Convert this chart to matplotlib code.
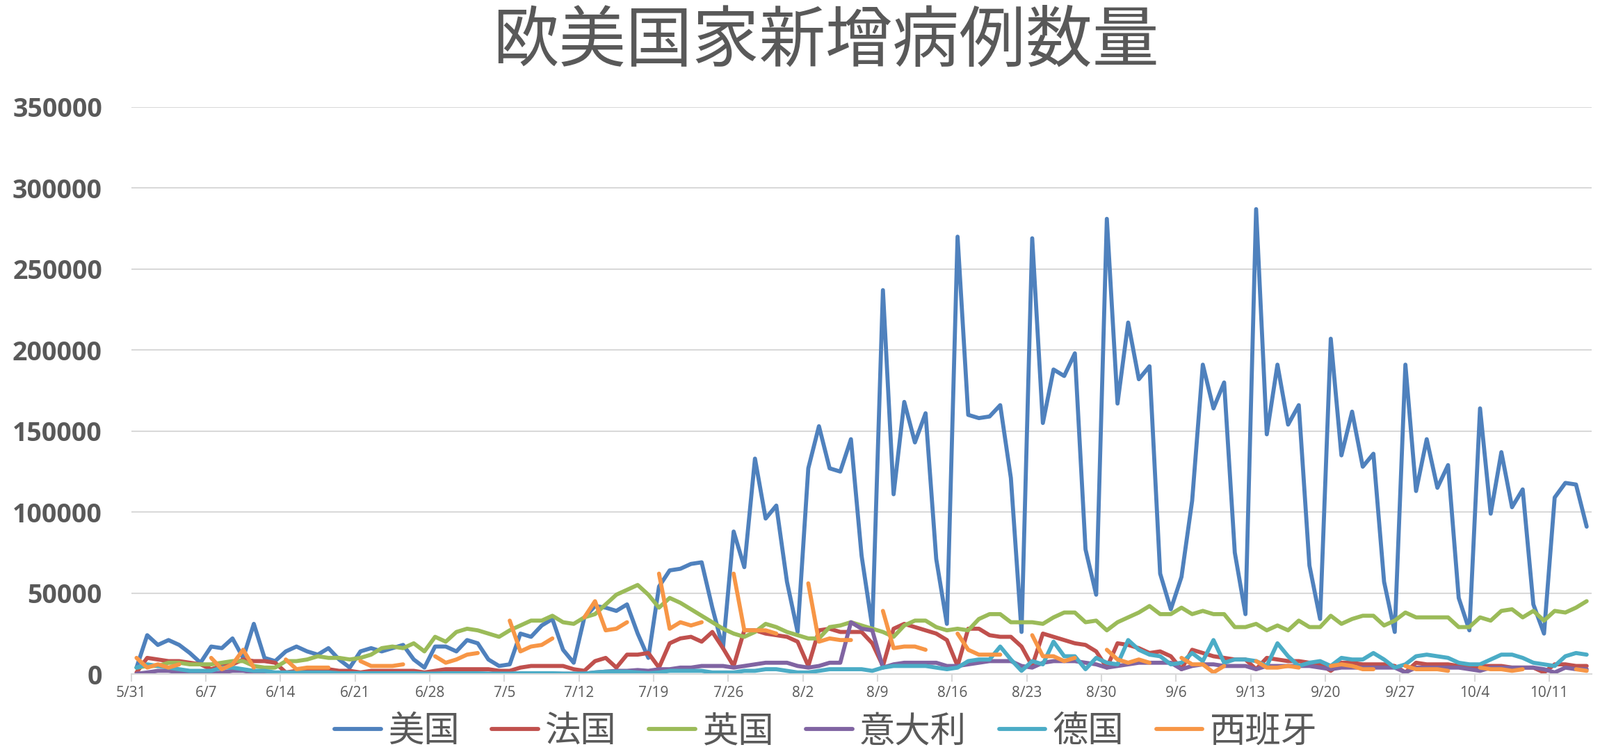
import numpy as np
import matplotlib
matplotlib.use("Agg")
import matplotlib.pyplot as plt
from matplotlib import font_manager
import datetime as dt

nan = np.nan
start = dt.date(2020, 5, 31)
n_days = 137
dates = [start + dt.timedelta(days=i) for i in range(n_days)]
tick_labels = ["5/31","6/7","6/14","6/21","6/28","7/5","7/12","7/19","7/26","8/2","8/9","8/16",
               "8/23","8/30","9/6","9/13","9/20","9/27","10/4","10/11"]

us = [4,24,18,21,18,13,7, 17,16,22,10,31,10,8, 14,17,14,12,16,9,4, 14,16,14,16,18,9,4,
      17,17,14,21,19,9,5, 6,25,23,30,34,15,7, 35,42,41,39,43,25,10, 54,64,65,68,69,41,16,
      88,66,133,96,104,57,26, 127,153,127,125,145,73,29, 237,111,168,143,161,71,31,
      270,160,158,159,166,121,26, 269,155,188,184,198,77,49, 281,167,217,182,190,62,40,
      60,107,191,164,180,75,37, 287,148,191,154,166,67,34, 207,135,162,128,136,57,26,
      191,113,145,115,129,47,27, 164,99,137,103,114,43,25, 109,118,117,91]
france = [1,10,9,8,8,7,6, 3,5,6,9,8,8,7, 1,2,2,3,3,2,2, 1,2,2,2,2,2,1, 2,3,3,3,3,3,2,
          2,4,5,5,5,5,3, 2,8,10,4,12,12,13, 4,19,22,23,20,26,16,
          5,27,27,25,24,23,20, 5,27,28,26,26,26,19, 5,28,31,29,27,25,21, 5,28,28,24,23,23,17,
          5,25,23,21,19,18,14, 4,19,18,16,13,14,11, 3,15,13,11,10,9,9, 3,10,9,8,8,7,6,
          2,7,7,6,6,6,5, 1,7,6,6,6,5,4, 5,5,5,4,4,4,1, 6,6,5,5]
uk = [4,5,5,7,7,6,6, 6,7,8,8,5,4,4, 8,8,9,11,10,10,9, 10,12,16,17,16,19,14, 23,20,26,28,27,25,23,
      27,30,33,33,36,32,31, 35,37,43,49,52,55,49, 41,47,44,40,36,32,28,
      25,23,26,31,29,26,24, 22,22,29,30,32,30,28, 26,23,30,33,33,29,27, 28,27,34,37,37,32,32,
      32,31,35,38,38,32,33, 27,32,35,38,42,37,37, 41,37,39,37,37,29,29, 31,27,30,27,33,29,29,
      36,31,34,36,36,30,33, 38,35,35,35,35,29,29, 35,33,39,40,35,39,33, 39,38,41,45]
italy = [0.2,1,2,2,1,1,0.5, 0.3,1,2,2,1,1,0.5, 0.3,0.3,0.3,0.3,0.3,0.2,0.2, 0.2,0.2,0.2,0.2,0.2,0.2,0.1,
         0.2,0.2,0.2,0.2,0.3,0.2,0.2, 0.2,0.2,0.2,0.3,0.3,0.2,0.2, 0.2,1,1.5,2,2,2.5,2, 3,3,4,4,5,5,5,
         4,5,6,7,7,7,5, 4,5,7,7,32,28,27, 4,6,7,7,7,7,5, 5,6,7,8,8,8,5, 4,7,8,8,8,7,6,
         4,5,6,7,7,7,7, 3,5,6,6,5,5,5, 3,5,5,5,5,5,4, 3,4,4,4,4,4,4, 1,4,4,4,4,4,3, 2,4,4,4,4,4,3, 1,4,3,3]
germany = [4,6,5,4,3,2,2, 2,4,4,3,2,2,1, 1,1,1,1,1,0.5,0.5, 0.5,0.5,0.5,0.5,0.5,0.5,0.3,
           0.3,0.5,0.5,0.5,0.5,0.3,0.3, 0.3,0.5,0.5,0.5,0.5,0.3,0.3, 0.3,1,1.5,1.5,1.5,1,0.5, 1,2,2,2,2,1,1,
           1,2,2,3,3,2,1, 1,2,3,3,3,3,2, 4,5,5,5,5,4,3, 4,8,9,9,17,9,2, 8,6,20,11,11,3,10,
           7,6,21,15,12,11,6, 7,13,8,21,7,9,9, 8,5,19,11,5,7,8, 5,10,9,9,13,9,4,
           6,11,12,11,10,7,6, 6,9,12,12,10,7,6, 5,11,13,12]
spain = [10,4,6,4,6,nan,nan, 10,3,6,15,4,nan,nan, 9,3,4,4,4,nan,nan, 8,5,5,5,6,nan,nan,
         11,7,9,12,13,nan,nan, 33,14,17,18,22,nan,nan, 35,45,27,28,32,nan,nan, 62,28,32,30,32,nan,nan,
         62,27,27,27,25,nan,nan, 56,20,22,21,21,nan,nan, 39,16,17,17,15,nan,nan, 25,15,12,12,12,nan,nan,
         24,11,11,8,10,nan,nan, 15,9,7,9,7,nan,nan, 10,6,6,1,5,nan,nan, 8,4,4,5,4,nan,nan,
         5,6,5,3,3,nan,nan, 5,3,3,3,2,nan,nan, 4,3,3,2,3,nan,nan, nan,nan,3,2]

series = [("美国", us, "#4F81BD"), ("法国", france, "#C0504D"), ("英国", uk, "#9BBB59"),
          ("意大利", italy, "#8064A2"), ("德国", germany, "#4BACC6"), ("西班牙", spain, "#F79646")]

cjk_prop = None
for f in font_manager.findSystemFonts():
    if "NotoSansCJK" in f.replace(" ", "") or "NotoSansSC" in f.replace(" ", ""):
        if "Regular" in f or cjk_prop is None:
            cjk_prop = f
            if "Regular" in f:
                break
if cjk_prop is not None:
    font_manager.fontManager.addfont(cjk_prop)
    cjk_name = font_manager.FontProperties(fname=cjk_prop).get_name()
else:
    cjk_name = "Noto Sans CJK SC"
plt.rcParams["font.family"] = ["Open Sans", cjk_name, "Noto Sans CJK JP", "DejaVu Sans"]

fig = plt.figure(figsize=(23.01, 10.84), dpi=100)
ax = fig.add_axes([0.082, 0.106, 0.913, 0.752])
x = np.arange(n_days)
for name, vals, col in series:
    ax.plot(x, np.array(vals, dtype=float) * 1000, color=col, lw=4.2, label=name,
            solid_joinstyle="round", solid_capstyle="round")

ax.set_xlim(-0.5, n_days - 0.5)
ax.set_ylim(0, 350000)
ax.set_yticks(np.arange(0, 350001, 50000))
ax.set_yticklabels([str(v) for v in range(0, 350001, 50000)], fontsize=27, fontweight="bold",
                   color="#595959")
ax.yaxis.grid(True, color="#D9D9D9", lw=1.5)
ax.set_axisbelow(True)
ax.tick_params(axis="y", length=0, pad=30)
ticks = np.arange(0, n_days, 7) - 0.5
ax.set_xticks(ticks)
ax.set_xticklabels(tick_labels, fontsize=15, color="#595959")
ax.tick_params(axis="x", length=8, color="#D9D9D9", width=1.5, pad=4)
for s in ["top", "right", "left"]:
    ax.spines[s].set_visible(False)
ax.spines["bottom"].set_color("#D9D9D9")
ax.spines["bottom"].set_linewidth(1.5)

fig.text(0.516, 0.945, "欧美国家新增病例数量", ha="center", va="center", fontsize=69,
         color="#595959", family=cjk_name)
leg = fig.legend(loc="center", bbox_to_anchor=(0.516, 0.03), ncol=6, frameon=False,
                 prop={"family": cjk_name, "size": 37}, handlelength=1.3, handletextpad=0.2,
                 columnspacing=0.9)
for t in leg.get_texts():
    t.set_color("#595959")
fig.savefig("out.png", dpi=100)
